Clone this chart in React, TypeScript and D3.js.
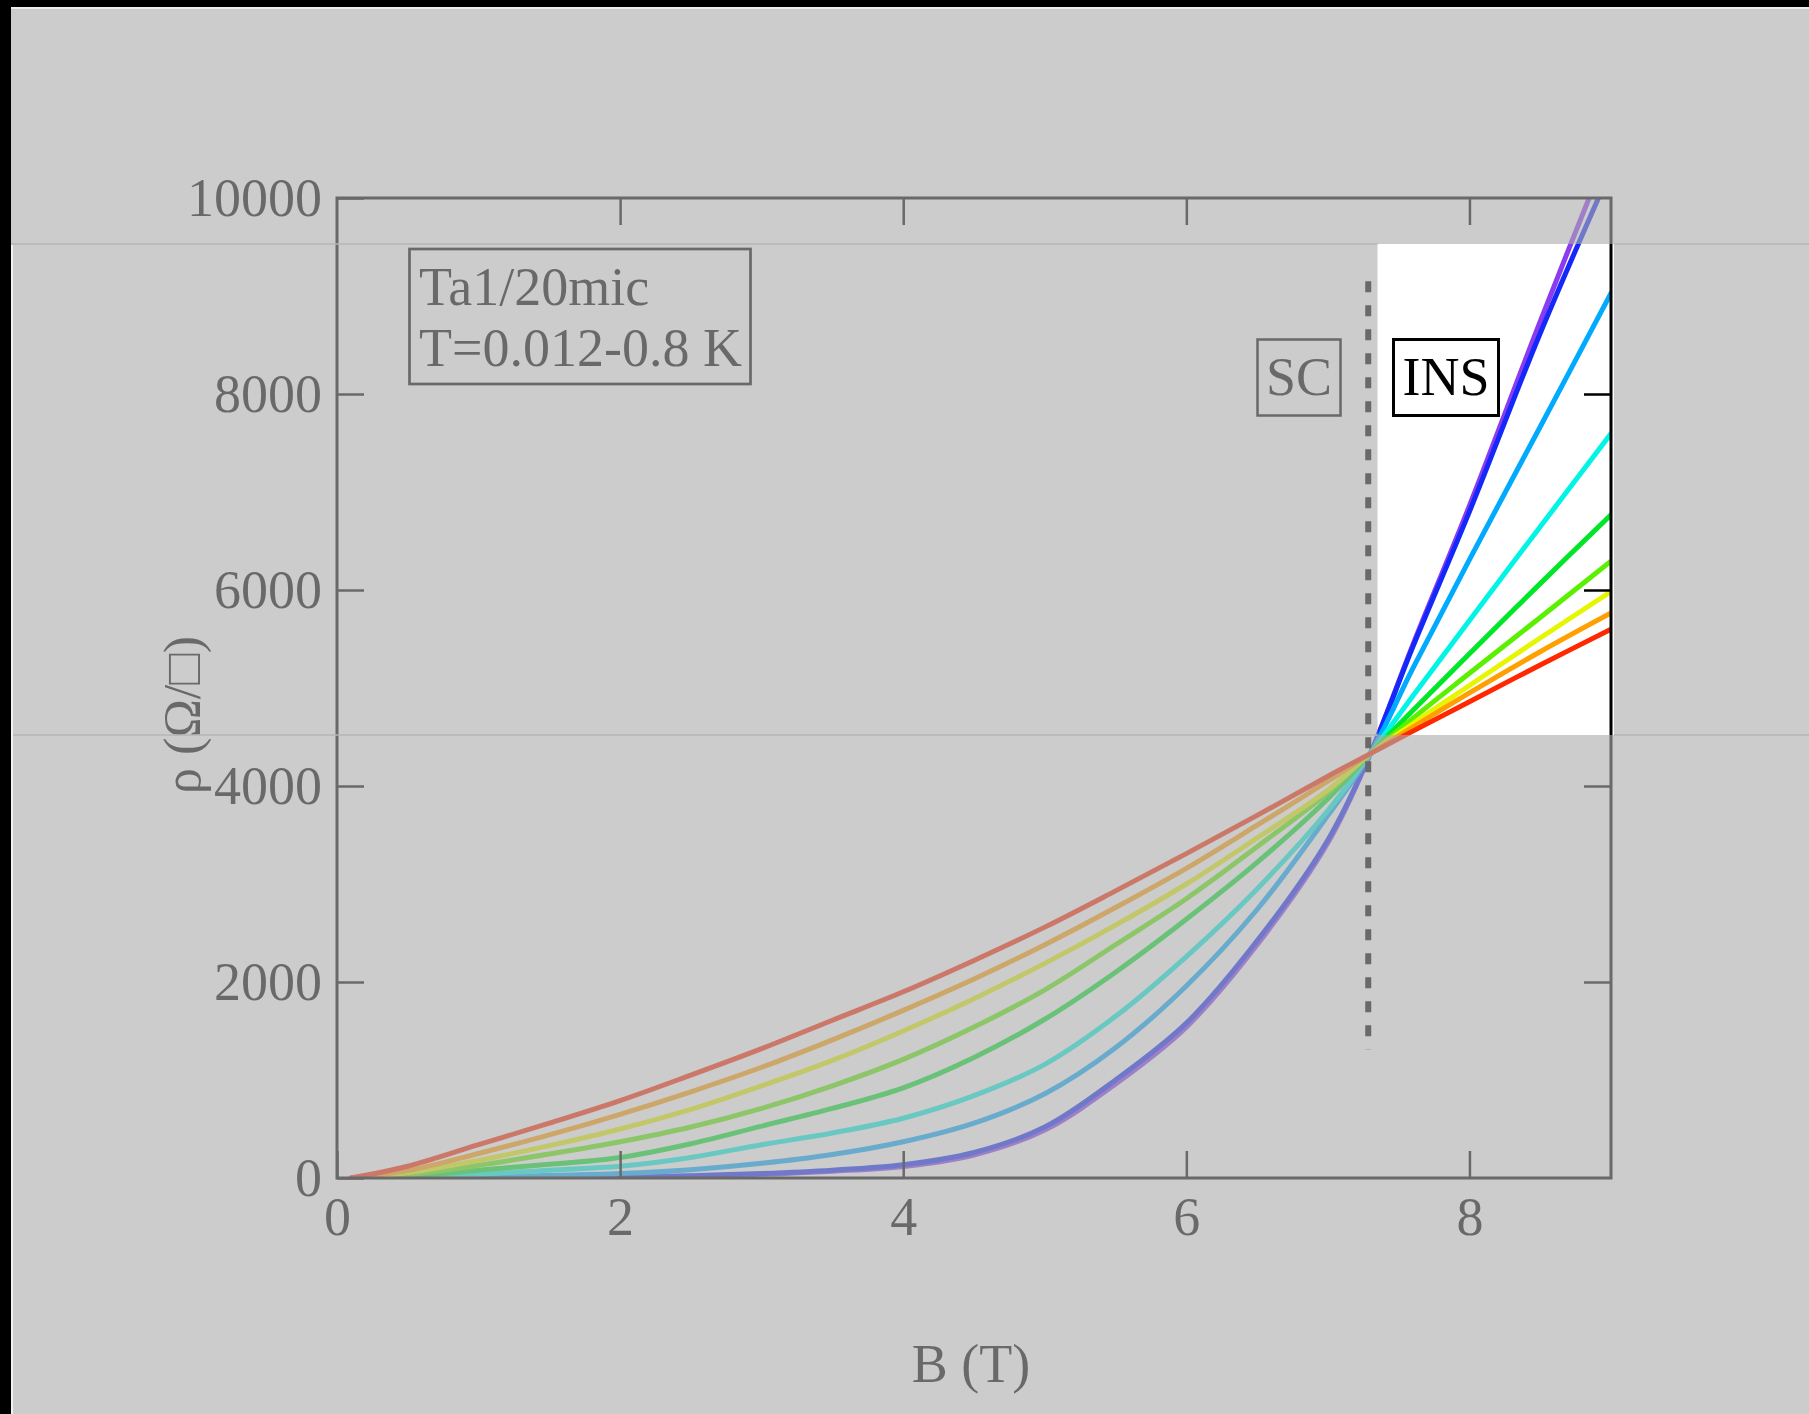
import React, { useEffect, useRef } from 'react';
import * as d3 from 'd3';

// magnetic field grid (T)
const fieldB = [0.1, 0.5, 1, 1.5, 2, 2.5, 3, 3.5, 4, 4.5, 5, 5.5, 6, 6.5, 7, 7.3, 7.6, 8, 8.5, 9];

// sheet resistance (Ohm/sq), lowest T first
const rhoViolet = [0, 0, 1, 4, 8, 18, 38, 70, 118, 235, 490, 960, 1540, 2380, 3420, 4330, 5440, 6860, 8740, 10560];
const rhoBlue = [0, 0, 2, 5, 10, 22, 45, 80, 135, 260, 520, 1000, 1580, 2420, 3450, 4330, 5420, 6800, 8620, 10290];
const rhoAzure = [0, 2, 12, 25, 45, 85, 150, 240, 370, 560, 860, 1330, 1960, 2740, 3700, 4330, 5200, 6310, 7666, 9028];
const rhoCyan = [0, 8, 37, 80, 120, 210, 340, 460, 610, 840, 1160, 1650, 2260, 2950, 3750, 4330, 4918, 5690, 6646, 7596];
const rhoGreen = [0, 15, 80, 140, 210, 350, 530, 710, 920, 1230, 1620, 2100, 2640, 3220, 3870, 4330, 4770, 5350, 6065, 6768];
const rhoLime = [0, 35, 130, 245, 370, 520, 710, 940, 1210, 1540, 1920, 2380, 2850, 3380, 3930, 4330, 4690, 5150, 5720, 6295];
const rhoYellow = [0, 55, 180, 330, 500, 700, 940, 1200, 1500, 1830, 2190, 2580, 3000, 3470, 3960, 4330, 4635, 5025, 5510, 5985];
const rhoOrange = [0, 75, 250, 440, 650, 880, 1130, 1410, 1710, 2030, 2380, 2760, 3160, 3600, 4050, 4330, 4600, 4950, 5370, 5765];
const rhoRed = [0, 120, 340, 560, 790, 1050, 1320, 1610, 1900, 2220, 2560, 2930, 3310, 3700, 4100, 4330, 4560, 4860, 5235, 5600];

const series = [rhoViolet, rhoBlue, rhoAzure, rhoCyan, rhoGreen, rhoLime, rhoYellow, rhoOrange, rhoRed];
const seriesColors = ['#8c3cf0', '#1428fa', '#00aaff', '#00f5e6', '#00e628', '#5af000', '#e6f500', '#ffa000', '#ff2800'];

const xTicks = [0, 2, 4, 6, 8];
const yTicks = [0, 2000, 4000, 6000, 8000, 10000];
const criticalB = 7.285;
const dashRange = [1310, 9150];

const W = 1809;
const H = 1414;
const plot = { left: 337, right: 1611, top: 198, bottom: 1178 };
const spot = { x0: 1377.5, x1: 1614, y0: 244, y1: 735 };
const serif = '"Liberation Serif", "Times New Roman", "DejaVu Serif", serif';

export default function App() {
  const axRef = useRef<SVGGElement>(null);

  const x = d3.scaleLinear().domain([0, 9]).range([plot.left, plot.right]);
  const y = d3.scaleLinear().domain([0, 10000]).range([plot.bottom, plot.top]);

  const line = d3
    .line<number>()
    .x((_, i) => x(fieldB[i]))
    .y((d) => y(d))
    .curve(d3.curveCatmullRom.alpha(0.5));

  useEffect(() => {
    const g = d3.select(axRef.current);
    g.selectAll('*').remove();

    const bottom = g
      .append('g')
      .attr('transform', `translate(0,${plot.bottom})`)
      .call(d3.axisBottom(x).tickValues(xTicks).tickSize(-27).tickPadding(19).tickFormat(d3.format('d')));
    const left = g
      .append('g')
      .attr('transform', `translate(${plot.left},0)`)
      .call(d3.axisLeft(y).tickValues(yTicks).tickSize(-27).tickPadding(15).tickFormat(d3.format('d')));
    const top = g
      .append('g')
      .attr('transform', `translate(0,${plot.top})`)
      .call(d3.axisTop(x).tickValues(xTicks.slice(1)).tickSize(-27).tickFormat(() => ''));
    const right = g
      .append('g')
      .attr('transform', `translate(${plot.right},0)`)
      .call(d3.axisRight(y).tickValues(yTicks.slice(1, -1)).tickSize(-27).tickFormat(() => ''));

    [bottom, left, top, right].forEach((a) => {
      a.attr('font-family', serif).attr('font-size', 54);
      a.select('.domain').remove();
      a.selectAll('line').attr('stroke', '#000').attr('stroke-width', 2.5);
      a.selectAll('text').attr('fill', '#000');
    });
  }, []);

  return (
    <svg
      width={W}
      height={H}
      viewBox={`0 0 ${W} ${H}`}
      style={{ position: 'absolute', left: 0, top: 0, display: 'block', background: '#fff' }}
    >
      <defs>
        <clipPath id="plotClip">
          <rect x={plot.left} y={plot.top} width={plot.right - plot.left} height={plot.bottom - plot.top} />
        </clipPath>
      </defs>
      <rect x={0} y={0} width={W} height={H} fill="#fff" />

      <g clipPath="url(#plotClip)" fill="none" strokeWidth={5} strokeLinejoin="round" strokeLinecap="round">
        {series.map((s, i) => (
          <path key={i} d={line(s) || ''} stroke={seriesColors[i]} />
        ))}
      </g>

      <line
        x1={x(criticalB)}
        x2={x(criticalB)}
        y1={y(dashRange[1])}
        y2={y(dashRange[0])}
        stroke="#000"
        strokeWidth={6}
        strokeDasharray="11 13"
      />

      <rect
        x={plot.left}
        y={plot.top}
        width={plot.right - plot.left}
        height={plot.bottom - plot.top}
        fill="none"
        stroke="#000"
        strokeWidth={3}
      />
      <g ref={axRef} />

      <g fontFamily={serif} fontSize={54} fill="#000">
        <text x={(plot.left + plot.right) / 2 - 3} y={1382} textAnchor="middle">B (T)</text>
        <text transform="translate(200,715) rotate(-90)" textAnchor="middle" fontSize={52}>ρ (Ω/□)</text>

        <rect x={409.5} y={249} width={341} height={135} fill="none" stroke="#000" strokeWidth={2.7} />
        <text x={419} y={305}>Ta1/20mic</text>
        <text x={419} y={366}>T=0.012-0.8 K</text>

        <rect x={1257.5} y={339.5} width={83} height={76} fill="none" stroke="#000" strokeWidth={2.5} />
        <text x={1299} y={395} textAnchor="middle">SC</text>

        <rect x={1393.5} y={339.5} width={105} height={76} fill="#fff" stroke="#000" strokeWidth={3} />
        <text x={1446} y={395} textAnchor="middle">INS</text>
      </g>

      {/* grey veil around the highlighted insulating region */}
      <g fill="rgba(172,172,172,0.61)">
        <rect x={0} y={0} width={W} height={spot.y0} />
        <rect x={0} y={spot.y1} width={W} height={H - spot.y1} />
        <rect x={0} y={spot.y0} width={spot.x0} height={spot.y1 - spot.y0} />
        <rect x={spot.x1} y={spot.y0} width={W - spot.x1} height={spot.y1 - spot.y0} />
      </g>
      <g stroke="#b6b6b6" strokeWidth={1.5}>
        <line x1={11} x2={spot.x0} y1={spot.y0} y2={spot.y0} />
        <line x1={spot.x1} x2={W} y1={spot.y0} y2={spot.y0} />
        <line x1={11} x2={spot.x0} y1={spot.y1} y2={spot.y1} />
        <line x1={spot.x1} x2={W} y1={spot.y1} y2={spot.y1} />
      </g>

      <rect x={0} y={0} width={W} height={7} fill="#000" />
      <rect x={11} y={7} width={W - 11} height={2} fill="#eee" />
      <rect x={0} y={0} width={11} height={H} fill="#000" />
      <rect x={11} y={spot.y0 + 1} width={2} height={H - spot.y0} fill="#f2f2f2" />
    </svg>
  );
}
